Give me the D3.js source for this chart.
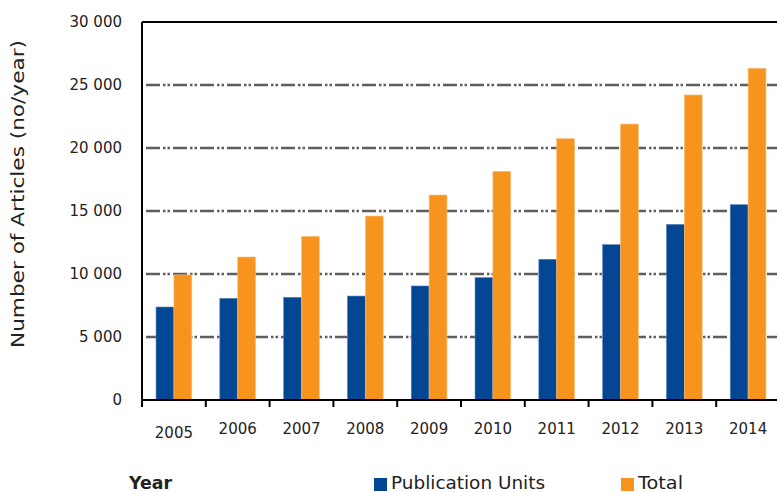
<!DOCTYPE html>
<html>
<head>
<meta charset="utf-8">
<script src="https://cdn.jsdelivr.net/npm/d3@7"></script>
<style>
  body { margin: 0; background: #fff; }
  text { font-family: "DejaVu Sans", sans-serif; fill: #222; }
</style>
</head>
<body>
<div id="chart"></div>
<script>
// data
var years = ["2005", "2006", "2007", "2008", "2009", "2010", "2011", "2012", "2013", "2014"];
var seriesNames = ["Publication Units", "Total"];
var publicationUnits = [7380, 8070, 8150, 8250, 9050, 9710, 11170, 12330, 13940, 15500];
var total = [9930, 11350, 12990, 14600, 16270, 18150, 20740, 21900, 24210, 26330];
var yTicks = [0, 5000, 10000, 15000, 20000, 25000, 30000];
var colors = ["#034694", "#f7941d"];

var W = 777, H = 492;
var margin = {top: 22, left: 142, bottom: 92};
var plotRight = 780;

var svg = d3.select("#chart").append("svg")
  .attr("width", W).attr("height", H);

var x = d3.scaleBand().domain(years).range([margin.left, plotRight]).padding(0);
var x1 = d3.scaleBand().domain(seriesNames)
  .range([x.bandwidth() * 0.22, x.bandwidth() * 0.78]).padding(0);
var y = d3.scaleLinear().domain([0, 30000]).range([H - margin.bottom, margin.top]);

var fmt = d3.formatLocale({decimal: ".", thousands: " ", grouping: [3], currency: ["", ""]}).format(",");

// gridlines (dash-dot-dot)
svg.append("g")
  .selectAll("line")
  .data(yTicks.filter(function(d) { return d > 0 && d < 30000; }))
  .join("line")
  .attr("x1", margin.left + 4).attr("x2", plotRight)
  .attr("y1", function(d) { return y(d); })
  .attr("y2", function(d) { return y(d); })
  .attr("stroke", "#625d5d")
  .attr("stroke-width", 2.6)
  .attr("stroke-dasharray", "14,3,2.5,2,2.5,3");

// bars
var rows = years.map(function(yr, i) {
  return {year: yr, values: [publicationUnits[i], total[i]]};
});

svg.append("g")
  .selectAll("g")
  .data(rows)
  .join("g")
  .attr("transform", function(d) { return "translate(" + x(d.year) + ",0)"; })
  .selectAll("rect")
  .data(function(d) { return d.values.map(function(v, j) { return {name: seriesNames[j], value: v, i: j}; }); })
  .join("rect")
  .attr("x", function(d) { return x1(d.name); })
  .attr("width", x1.bandwidth())
  .attr("y", function(d) { return y(d.value); })
  .attr("height", function(d) { return y(0) - y(d.value); })
  .attr("fill", function(d) { return colors[d.i]; })
  .attr("stroke", function(d) { return d.i == 0 ? "#5f82b8" : "#fbc27e"; })
  .attr("stroke-width", 0.6);

// y axis labels (no tick marks)
svg.append("g")
  .attr("transform", "translate(" + margin.left + ",0)")
  .call(d3.axisLeft(y).tickValues(yTicks).tickSize(0).tickPadding(20).tickFormat(fmt))
  .call(function(g) { g.select(".domain").remove(); })
  .selectAll("text")
  .style("font-family", "DejaVu Sans, sans-serif")
  .style("font-size", "15px")
  .attr("fill", "#222");

// frame: left axis, top line, bottom axis
svg.append("line")
  .attr("x1", margin.left).attr("x2", margin.left)
  .attr("y1", margin.top).attr("y2", y(0) + 1)
  .attr("stroke", "#000").attr("stroke-width", 2);
svg.append("line")
  .attr("x1", margin.left).attr("x2", plotRight)
  .attr("y1", margin.top).attr("y2", margin.top)
  .attr("stroke", "#000").attr("stroke-width", 2.2);
svg.append("line")
  .attr("x1", margin.left).attr("x2", plotRight)
  .attr("y1", y(0)).attr("y2", y(0))
  .attr("stroke", "#000").attr("stroke-width", 2);

// x ticks at category boundaries
var bounds = years.map(function(d) { return x(d); }).concat([plotRight]);
svg.append("g")
  .selectAll("line")
  .data(bounds)
  .join("line")
  .attr("x1", function(d) { return d; }).attr("x2", function(d) { return d; })
  .attr("y1", y(0)).attr("y2", y(0) + 7)
  .attr("stroke", "#000").attr("stroke-width", 2);

// x labels
svg.append("g")
  .selectAll("text")
  .data(years)
  .join("text")
  .attr("x", function(d) { return x(d) + x.bandwidth() / 2; })
  .attr("y", function(d, i) { return i == 0 ? 438 : 434; })
  .attr("text-anchor", "middle")
  .style("font-size", "15px")
  .text(function(d) { return d; });

// y axis title
svg.append("text")
  .attr("transform", "translate(24,194) rotate(-90)")
  .attr("text-anchor", "middle")
  .style("font-size", "18px")
  .attr("fill", "#333")
  .attr("textLength", 308)
  .attr("lengthAdjust", "spacingAndGlyphs")
  .text("Number of Articles (no/year)");

// bottom: "Year" and legend
svg.append("text")
  .attr("x", 129).attr("y", 489)
  .style("font-size", "17.5px")
  .style("font-weight", "bold")
  .attr("textLength", 43)
  .attr("lengthAdjust", "spacingAndGlyphs")
  .text("Year");

var legendX = [374, 621];
var legendLen = [154, 45];
var legend = svg.append("g")
  .selectAll("g")
  .data(seriesNames)
  .join("g")
  .attr("transform", function(d, i) { return "translate(" + legendX[i] + ",478)"; });
legend.append("rect")
  .attr("width", 13).attr("height", 13)
  .attr("fill", function(d, i) { return colors[i]; });
legend.append("text")
  .attr("x", 17).attr("y", 11)
  .style("font-size", "17.5px")
  .attr("textLength", function(d, i) { return legendLen[i]; })
  .attr("lengthAdjust", "spacingAndGlyphs")
  .text(function(d) { return d; });
</script>
</body>
</html>
